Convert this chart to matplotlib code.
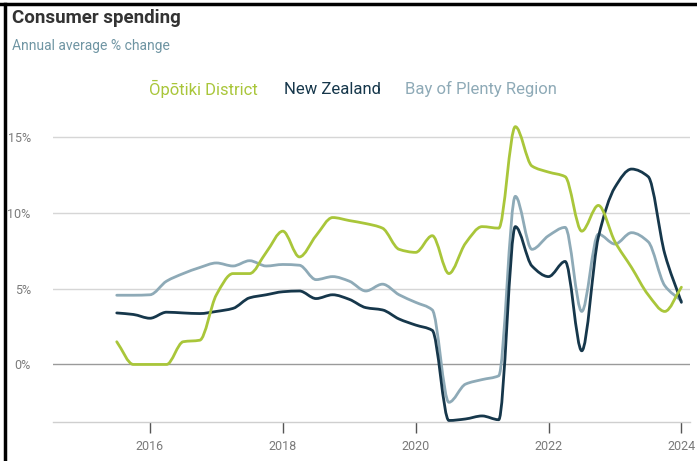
import numpy as np
import matplotlib
matplotlib.use("Agg")
import matplotlib.pyplot as plt
from matplotlib.path import Path
from matplotlib.patches import PathPatch
from matplotlib.lines import Line2D

plt.rcParams['font.family'] = ['Roboto', 'DejaVu Sans']

# Quarterly observations (decimal years)
quarters = [2015.5 + 0.25 * i for i in range(35)]

opotiki = [1.5, 0.0, 0.0, 0.0, 1.5, 1.6, 4.6, 6.0, 6.0, 7.4,
           8.8, 7.1, 8.5, 9.7, 9.5, 9.3, 9.0, 7.6, 7.4, 8.5,
           6.0, 8.0, 9.1, 9.0, 15.7, 13.1, 12.7, 12.4, 8.8, 10.5,
           8.1, 6.4, 4.6, 3.5, 5.1]

new_zealand = [3.4, 3.3, 3.05, 3.45, 3.4, 3.36, 3.5, 3.7, 4.4, 4.6,
               4.8, 4.85, 4.35, 4.6, 4.3, 3.75, 3.6, 3.0, 2.6, 2.25,
               -3.7, -3.6, -3.4, -3.65, 9.1, 6.5, 5.8, 6.8, 0.9, 8.4,
               11.7, 12.9, 12.4, 7.3, 4.1]

bay_of_plenty = [4.57, 4.57, 4.6, 5.5, 6.0, 6.4, 6.7, 6.5, 6.85, 6.5,
                 6.6, 6.55, 5.6, 5.8, 5.5, 4.85, 5.3, 4.6, 4.1, 3.6,
                 -2.5, -1.3, -1.0, -0.75, 11.1, 7.6, 8.5, 9.05, 3.5, 8.6,
                 7.95, 8.7, 8.1, 5.2, 4.2]

series_names = ["Ōpōtiki District", "New Zealand", "Bay of Plenty Region"]
series_colors = ["#a9c63a", "#16374b", "#8eaab7"]
year_ticks = [2016, 2018, 2020, 2022, 2024]
pct_ticks = [0, 5, 10, 15]


def monotone_path(x, y):
    """Cubic Bezier path through the points with monotone (Fritsch-Carlson) slopes."""
    x = np.asarray(x, float)
    y = np.asarray(y, float)
    h = np.diff(x)
    d = np.diff(y) / h
    n = len(x)
    m = np.zeros(n)
    m[0], m[-1] = d[0], d[-1]
    for i in range(1, n - 1):
        if d[i - 1] * d[i] <= 0:
            m[i] = 0.0
        else:
            w1 = 2 * h[i] + h[i - 1]
            w2 = h[i] + 2 * h[i - 1]
            m[i] = (w1 + w2) / (w1 / d[i - 1] + w2 / d[i])
    verts = [(x[0], y[0])]
    codes = [Path.MOVETO]
    for i in range(n - 1):
        verts += [(x[i] + h[i] / 3, y[i] + m[i] * h[i] / 3),
                  (x[i + 1] - h[i] / 3, y[i + 1] - m[i + 1] * h[i] / 3),
                  (x[i + 1], y[i + 1])]
        codes += [Path.CURVE4] * 3
    return Path(verts, codes)


fig = plt.figure(figsize=(6.97, 4.61), dpi=100)
ax = fig.add_axes([0.076, 0.0846, 0.914, 0.6768])

ax.set_xlim(2014.54, 2024.13)
ax.set_ylim(-3.8, 16.8)

# Horizontal gridlines
for v in [5, 10, 15]:
    ax.axhline(v, color="#d6d6d6", lw=1.0, zorder=1)
ax.axhline(0, color="#9a9a9a", lw=1.0, zorder=1)

# Series drawn bottom to top
for vals, col in zip([bay_of_plenty, new_zealand, opotiki],
                     [series_colors[2], series_colors[1], series_colors[0]]):
    patch = PathPatch(monotone_path(quarters, vals), fill=False,
                      edgecolor=col, lw=2.0, capstyle='round',
                      joinstyle='round', zorder=3)
    ax.add_patch(patch)

for s in ["top", "right", "left"]:
    ax.spines[s].set_visible(False)
ax.spines["bottom"].set_color("#cfcfcf")
ax.spines["bottom"].set_linewidth(1.0)

ax.set_xticks(year_ticks)
ax.set_xticklabels([str(t) for t in year_ticks])
ax.tick_params(axis="x", direction="out", length=8, width=1.0,
               color="#555555", labelcolor="#7a7a7a", labelsize=9, pad=5)

ax.set_yticks(pct_ticks)
ax.set_yticklabels([f"{t}%" for t in pct_ticks])
ax.tick_params(axis="y", length=0, labelcolor="#7a7a7a", labelsize=9, pad=16)

# Titles
fig.text(0.017, 0.960, "Consumer spending", fontsize=13.5, fontweight="bold",
         color="#333333", ha="left", va="center")
fig.text(0.017, 0.900, "Annual average % change", fontsize=10,
         color="#6f95a3", ha="left", va="center")

# Legend as coloured labels
legend_x = [149, 284, 405]
for name, col, px in zip(series_names, series_colors, legend_x):
    fig.text(px / 697, 1 - 89 / 461, name, fontsize=12, color=col,
             ha="left", va="center")

# Frame edges
fig.add_artist(Line2D([0, 1], [1 - 4 / 461, 1 - 4 / 461], color="black",
                      lw=2.5, transform=fig.transFigure))
fig.add_artist(Line2D([5 / 697, 5 / 697], [0, 1 - 4 / 461], color="black",
                      lw=2.5, transform=fig.transFigure))

fig.savefig("out.png", dpi=100, facecolor="white")
